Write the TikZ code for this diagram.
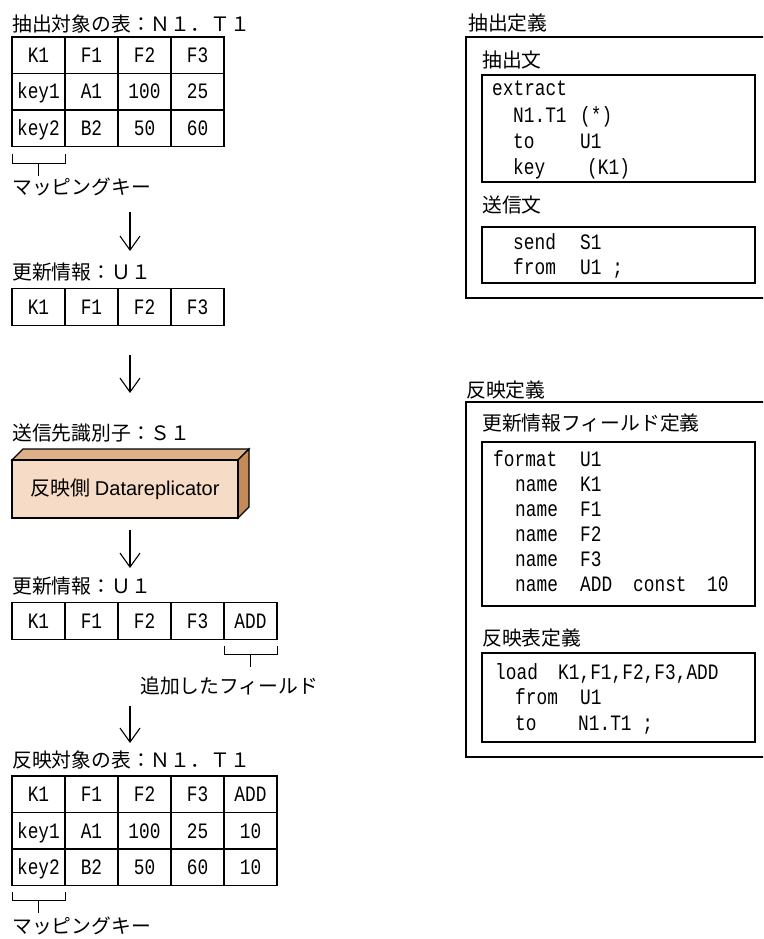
\documentclass[tikz,border=0pt]{standalone}
\usepackage{fontspec}
\setmainfont{Noto Sans CJK JP}
\newfontfamily\codefont[FakeStretch=0.81]{Liberation Mono}
\newfontfamily\latinfont{Liberation Sans}
\usetikzlibrary{arrows.meta,calc}
\definecolor{boxfront}{RGB}{246,219,198}
\definecolor{boxtop}{RGB}{222,176,136}
\definecolor{boxside}{RGB}{196,138,88}
\tikzset{
  cell/.style={draw, line width=1.1pt, minimum width=53pt, minimum height=36.5pt, inner sep=0pt, text height=14.5pt, text depth=0pt, font=\codefont\fontsize{22}{22}\selectfont},
  lbl/.style={anchor=west, inner sep=0pt, font=\fontsize{19.8}{20}\selectfont},
  code/.style={anchor=base west, inner sep=0pt, font=\codefont\fontsize{22}{22}\selectfont},
  flow/.style={-{Straight Barb[length=14pt,width=20pt]}, line width=1.1pt},
  frame/.style={draw, line width=1.1pt}
}

\begin{document}
\begin{tikzpicture}[x=1pt, y=-1pt]
\useasboundingbox (0,0) rectangle (763,939);
\clip (0,0) rectangle (763,939);

\node[lbl] (srcT) at (12,24) {抽出対象の表：Ｎ１．Ｔ１};
\foreach \a/\b/\c/\d [count=\r from 0] in {K1/F1/F2/F3, key1/A1/100/25, key2/B2/50/60}{
  \node[cell] (src-\r-0) at (38.5,55.25+36.5*\r) {\a};
  \node[cell] (src-\r-1) at (91.5,55.25+36.5*\r) {\b};
  \node[cell] (src-\r-2) at (144.5,55.25+36.5*\r) {\c};
  \node[cell] (src-\r-3) at (197.5,55.25+36.5*\r) {\d};
}
\draw[line width=1pt] (12,154) -- (12,163) -- (65,163) -- (65,154);
\draw[line width=1pt] (38.5,163) -- (38.5,176);
\node[lbl] (srcKey) at (12,187) {マッピングキー};

\coordinate (a1) at (130,212);
\coordinate (a2) at (130,251);
\draw[flow] (a1) -- (a2);

\node[lbl] (updT) at (12,272) {更新情報：Ｕ１};
\foreach \t [count=\c from 0] in {K1,F1,F2,F3}
  \node[cell] (upd-\c) at (38.5+53*\c,307) {\t};

\coordinate (a3) at (130,355);
\coordinate (a4) at (130,393);
\draw[flow] (a3) -- (a4);

\node[lbl] (repT) at (12,433) {送信先識別子：Ｓ１};
\draw[line width=1.1pt, fill=boxtop] (12,460) -- (23,449) -- (249,449) -- (238,460) -- cycle;
\draw[line width=1.1pt, fill=boxside] (238,460) -- (249,449) -- (249,507) -- (238,518) -- cycle;
\draw[line width=1.1pt, fill=boxfront] (12,460) rectangle (238,518);
\node[inner sep=0pt, font=\fontsize{20}{20}\selectfont] (rep) at (125,489) {反映側 {\latinfont Datareplicator}};

\coordinate (a5) at (130,530);
\coordinate (a6) at (130,568);
\draw[flow] (a5) -- (a6);

\node[lbl] (updxT) at (12,586) {更新情報：Ｕ１};
\foreach \t [count=\c from 0] in {K1,F1,F2,F3,ADD}
  \node[cell] (updx-\c) at (38.5+53*\c,621) {\t};
\draw[line width=1pt] (224,646) -- (224,654) -- (277,654) -- (277,646);
\draw[line width=1pt] (250.5,654) -- (250.5,667);
\node[lbl] (addKey) at (140,686) {追加したフィールド};

\coordinate (a7) at (130,706);
\coordinate (a8) at (130,743);
\draw[flow] (a7) -- (a8);

\node[lbl] (dstT) at (12,760) {反映対象の表：Ｎ１．Ｔ１};
\foreach \a/\b/\c/\d/\e [count=\r from 0] in {K1/F1/F2/F3/ADD, key1/A1/100/25/10, key2/B2/50/60/10}{
  \node[cell] (dst-\r-0) at (38.5,794.25+36.5*\r) {\a};
  \node[cell] (dst-\r-1) at (91.5,794.25+36.5*\r) {\b};
  \node[cell] (dst-\r-2) at (144.5,794.25+36.5*\r) {\c};
  \node[cell] (dst-\r-3) at (197.5,794.25+36.5*\r) {\d};
  \node[cell] (dst-\r-4) at (250.5,794.25+36.5*\r) {\e};
}
\draw[line width=1pt] (12,892) -- (12,900) -- (65,900) -- (65,892);
\draw[line width=1pt] (38.5,900) -- (38.5,913);
\node[lbl] (dstKey) at (12,926) {マッピングキー};

\node[lbl] (extT) at (468,23) {抽出定義};
\draw[frame] (466,37) rectangle (775,298);
\node[lbl] (extS) at (482,60) {抽出文};
\draw[frame] (482,75) rectangle (755,182);
\foreach \x/\y/\t [count=\i] in {492/96/extract, 513/123/N1.T1, 580/123/(*), 513/149/to, 580/149/U1, 513/174/key, 587/174/(K1)}
  \node[code] (ex\i) at (\x,\y) {\t};
\node[lbl] (sndS) at (482,205) {送信文};
\draw[frame] (482,227) rectangle (755,283);
\foreach \x/\y/\t [count=\i] in {513/249/send, 580/249/S1, 513/274/from, 580/274/U1 ;}
  \node[code] (sn\i) at (\x,\y) {\t};

\node[lbl] (refT) at (466,390) {反映定義};
\draw[frame] (466,402) rectangle (775,757);
\node[lbl] (fldS) at (482,423) {更新情報フィールド定義};
\draw[frame] (482,442) rectangle (755,606);
\foreach \x/\y/\t [count=\i] in {493/466/format, 580/466/U1, 515/491/name, 580/491/K1, 515/516/name, 580/516/F1, 515/541/name, 580/541/F2, 515/566/name, 580/566/F3, 515/591/name, 580/591/ADD, 633/591/const, 707/591/10}
  \node[code] (fm\i) at (\x,\y) {\t};
\node[lbl] (ldS) at (482,638) {反映表定義};
\draw[frame] (482,653) rectangle (755,742);
\foreach \x/\y/\t [count=\i] in {495/679/load, 558/679/{K1,F1,F2,F3,ADD}, 515/704/from, 580/704/U1, 515/730/to, 578/730/N1.T1 ;}
  \node[code] (ld\i) at (\x,\y) {\t};
\end{tikzpicture}
\end{document}
